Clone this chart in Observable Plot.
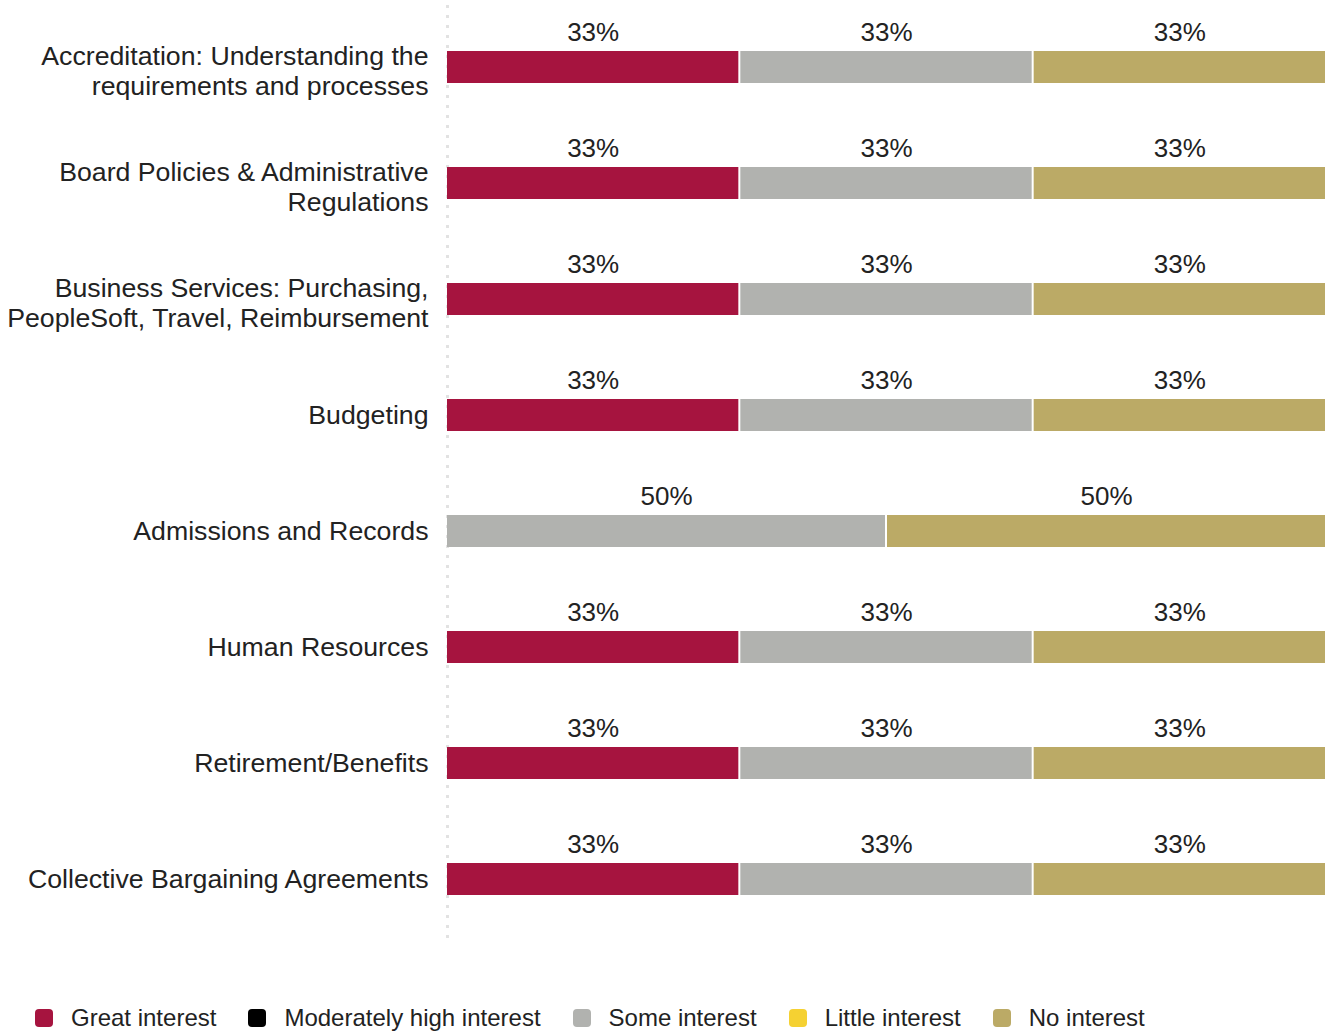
<!DOCTYPE html>
<html>
<head>
<meta charset="utf-8">
<script src="https://cdn.jsdelivr.net/npm/d3@7"></script>
<script src="https://cdn.jsdelivr.net/npm/@observablehq/plot@0.6"></script>
<style>
  body { margin: 0; background: #fff; font-family: "Liberation Sans", Arial, sans-serif; }
  #legend { display: flex; align-items: center; margin-top: 43px; padding-left: 35px; font-size: 24px; color: #222; height: 30px; }
  .item { display: flex; align-items: center; margin-right: 32px; }
  .sw { width: 18px; height: 18px; border-radius: 4px; margin-right: 18px; }
</style>
</head>
<body>
<div id="chart"></div>
<div id="legend"></div>
<script>
const categories = [
  "Accreditation: Understanding the\nrequirements and processes",
  "Board Policies & Administrative\nRegulations",
  "Business Services: Purchasing,\nPeopleSoft, Travel, Reimbursement",
  "Budgeting",
  "Admissions and Records",
  "Human Resources",
  "Retirement/Benefits",
  "Collective Bargaining Agreements"
];
const levels = ["Great interest", "Moderately high interest", "Some interest", "Little interest", "No interest"];
const levelColors = ["#a6143f", "#000000", "#b1b2af", "#f5d132", "#bbaa66"];
const greatInterest = [1/3, 1/3, 1/3, 1/3, 0, 1/3, 1/3, 1/3];
const moderatelyHigh = [0, 0, 0, 0, 0, 0, 0, 0];
const someInterest = [1/3, 1/3, 1/3, 1/3, 0.5, 1/3, 1/3, 1/3];
const littleInterest = [0, 0, 0, 0, 0, 0, 0, 0];
const noInterest = [1/3, 1/3, 1/3, 1/3, 0.5, 1/3, 1/3, 1/3];

const series = [greatInterest, moderatelyHigh, someInterest, littleInterest, noInterest];
const rows = [];
categories.forEach((c, i) => {
  levels.forEach((l, j) => {
    const v = series[j][i];
    if (v > 0) rows.push({category: c, level: l, value: v});
  });
});
const multiLine = categories.filter(c => c.includes("\n"));
const singleLine = categories.filter(c => !c.includes("\n"));

const chart = Plot.plot({
  width: 1328,
  height: 960,
  marginLeft: 446,
  marginRight: 2,
  marginTop: 5,
  marginBottom: 20,
  style: {fontFamily: '"Liberation Sans", Arial, sans-serif', fontSize: "26px", color: "#222", background: "#fff"},
  x: {domain: [0, 1], axis: null},
  y: {domain: categories, paddingInner: 0.724, paddingOuter: 0.362, insetTop: 4, insetBottom: 3, label: null, axis: null},
  color: {domain: levels, range: levelColors},
  marks: [
    Plot.ruleX([0], {stroke: "#e2e2e2", strokeWidth: 3, strokeDasharray: "3,7", dx: 1}),
    Plot.barX(rows, Plot.stackX({x: "value", y: "category", fill: "level", order: levels, insetLeft: 1, insetRight: 1})),
    Plot.text(rows, Plot.stackX({x: "value", y: "category", z: "level", order: levels, text: d => Math.round(d.value * 100) + "%", dy: -35, fill: "#222", fontSize: 26})),
    Plot.axisY({ticks: singleLine, tickSize: 0, tickPadding: 18, fontSize: 26.7, label: null}),
    Plot.axisY({ticks: multiLine, tickSize: 0, tickPadding: 18, fontSize: 26.7, label: null, lineHeight: 1.1, dy: 3})
  ]
});
document.getElementById("chart").appendChild(chart);

const legend = document.getElementById("legend");
levels.forEach((l, i) => {
  const item = document.createElement("div");
  item.className = "item";
  const sw = document.createElement("div");
  sw.className = "sw";
  sw.style.background = levelColors[i];
  const t = document.createElement("span");
  t.textContent = l;
  item.appendChild(sw);
  item.appendChild(t);
  legend.appendChild(item);
});
</script>
</body>
</html>
